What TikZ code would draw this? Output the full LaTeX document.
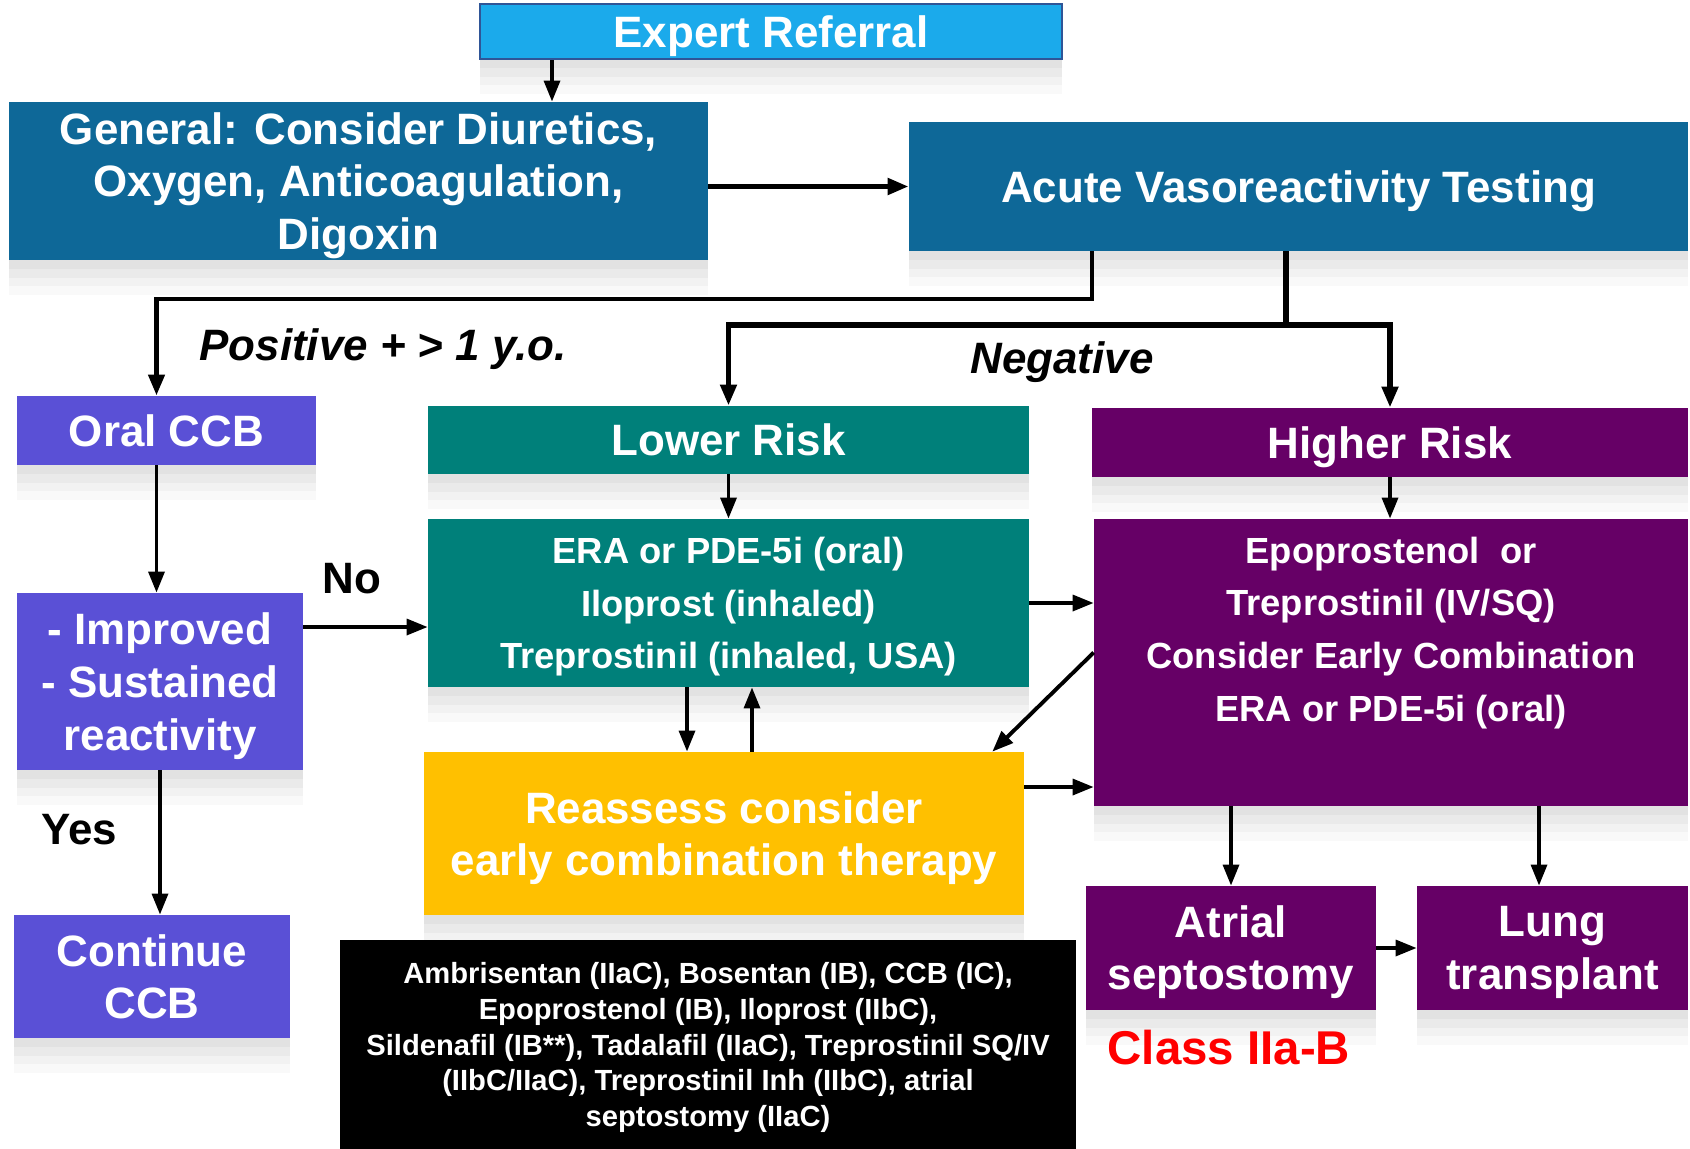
\documentclass[tikz,border=0pt]{standalone}
\usepackage{fontspec}
\setmainfont{Liberation Sans}
\usetikzlibrary{arrows.meta,positioning,shadows}

\definecolor{refblue}{RGB}{27,170,235}
\definecolor{refedge}{RGB}{47,85,151}
\definecolor{genblue}{RGB}{14,104,152}
\definecolor{ccbblue}{RGB}{90,80,214}
\definecolor{lowteal}{RGB}{0,128,122}
\definecolor{highpurple}{RGB}{102,0,102}
\definecolor{reyellow}{RGB}{255,192,0}

\begin{document}
\begin{tikzpicture}[x=0.02cm, y=-0.02cm,
    boxtext/.style={rectangle, inner sep=0pt, align=center, text=white,
      text depth=-0.8pt, font=\bfseries\fontsize{25}{30}\selectfont},
    box/.style={boxtext,
      drop shadow={shadow xshift=0pt, shadow yshift=-5pt, opacity=0.07},
      drop shadow={shadow xshift=0pt, shadow yshift=-10pt, opacity=0.07},
      drop shadow={shadow xshift=0pt, shadow yshift=-15pt, opacity=0.06},
      drop shadow={shadow xshift=0pt, shadow yshift=-20pt, opacity=0.05}},
    small/.style={text depth=-1.7pt, font=\bfseries\fontsize{20.7}{30}\selectfont},
    lbl/.style={inner sep=0pt, font=\bfseries\fontsize{25}{30}\selectfont},
    arr/.style={line width=2.2pt, -{Triangle[length=12pt,width=9pt]}},
    bar/.style={line width=3.2pt}]
\useasboundingbox (0,0) rectangle (1690,1149);

% Top row
\node[box, fill=refblue, draw=refedge, line width=1.5pt, minimum width=11.64cm, minimum height=1.1cm] (expert) at (771,31.5) {Expert Referral};
\node[box, fill=genblue, minimum width=13.98cm, minimum height=3.16cm] (general) at (358.5,181) {General: Consider Diuretics,\\Oxygen, Anticoagulation,\\Digoxin};
\node[box, fill=genblue, minimum width=15.58cm, minimum height=2.58cm] (acute) at (1298.5,186.5) {Acute Vasoreactivity Testing};

% Risk groups
\node[box, fill=ccbblue, minimum width=5.98cm, minimum height=1.38cm] (oral) at (166.5,430.5) {Oral CCB};
\node[box, fill=lowteal, minimum width=12.02cm, minimum height=1.36cm] (lower) at (728.5,440) {Lower Risk};
\node[box, fill=highpurple, minimum width=11.92cm, minimum height=1.38cm] (higher) at (1390,442.5) {Higher Risk};

% Therapies
\node[box, small, fill=lowteal, minimum width=12.02cm, minimum height=3.36cm] (era) at (728.5,603) {ERA or PDE-5i (oral)\\Iloprost (inhaled)\\Treprostinil (inhaled, USA)};
\node[box, fill=highpurple, minimum width=11.88cm, minimum height=5.74cm] (epo) at (1391,662.5) {};
\node[boxtext, small] (epotext) at (1391,629) {Epoprostenol~ or\\Treprostinil (IV/SQ)\\Consider Early Combination\\ERA or PDE-5i (oral)};
\node[box, fill=ccbblue, minimum width=5.72cm, minimum height=3.54cm] (improved) at (160,681.5) {- Improved\\- Sustained\\reactivity};
\node[box, fill=reyellow, minimum width=12cm, minimum height=3.26cm] (reassess) at (724,833.5) {Reassess consider\\early combination therapy};

% Bottom row
\node[box, fill=ccbblue, text depth=-3.6pt, minimum width=5.52cm, minimum height=2.46cm] (cont) at (152,976.5) {Continue\\CCB};
\node[box, fill=black, text depth=-2.5pt, font=\bfseries\fontsize{16.6}{20.3}\selectfont, minimum width=14.72cm, minimum height=4.18cm] (classes) at (708,1044.5) {Ambrisentan (IIaC), Bosentan (IB), CCB (IC),\\Epoprostenol (IB), Iloprost (IIbC),\\Sildenafil (IB**), Tadalafil (IIaC), Treprostinil SQ/IV\\(IIbC/IIaC), Treprostinil Inh (IIbC), atrial\\septostomy (IIaC)};
\node[box, fill=highpurple, text depth=0.5pt, minimum width=5.8cm, minimum height=2.48cm] (atrial) at (1231,948) {Atrial\\septostomy};
\node[box, fill=highpurple, text depth=0.5pt, minimum width=5.42cm, minimum height=2.48cm] (lung) at (1552.5,948) {Lung\\transplant};
\node[lbl, text=red, font=\bfseries\fontsize{27}{32}\selectfont] (classlbl) at (1229,1048) {Class IIa-B};

% Branch labels
\node[lbl, text depth=-0.8pt, font=\bfseries\itshape\fontsize{25}{30}\selectfont] (poslbl) at (383,345) {Positive + > 1 y.o.};
\node[lbl, text depth=-0.8pt, font=\bfseries\itshape\fontsize{25}{30}\selectfont] (neglbl) at (1062,358) {Negative};
\node[lbl] (nolbl) at (352,579) {No};
\node[lbl] (yeslbl) at (79,830) {Yes};

% Bend points
\coordinate (kexp) at (552,0);
\coordinate (kpos) at (1092,299);
\coordinate (kneg) at (1286,325);

% Connectors
\draw[arr] (expert.south -| kexp) -- (general.north -| kexp);
\draw[arr, line width=3.2pt] (acute.west -| general.east) -- (acute.west);
\draw[arr, line width=2.8pt] (acute.south -| kpos) -- (kpos) -| ([xshift=-0.2cm]oral.north);
\draw[bar] (acute.south -| kneg) -- (kneg);
\draw[arr, line width=3.2pt] (kneg) -| (lower.north);
\draw[arr, line width=3.2pt] (kneg) -| (higher.north);
\draw[arr] ([xshift=-0.2cm]oral.south) -- ([xshift=-0.2cm]oral.south |- improved.north);
\draw[arr] ([yshift=1.09cm]improved.east) -- ([yshift=1.09cm]improved.east -| era.west);
\draw[arr] (improved.south) -- (improved.south |- cont.north);
\draw[arr] (lower.south) -- (era.north);
\draw[arr] (higher.south) -- (higher.south |- epo.north);
\draw[arr] (era.east) -- (era.east -| epo.west);
\draw[arr] ([xshift=-0.83cm]era.south) -- ([xshift=-0.83cm]era.south |- reassess.north);
\draw[arr] ([xshift=0.47cm]era.south |- reassess.north) -- ([xshift=0.47cm]era.south);
\draw[arr] ([yshift=0.2cm]epo.west) -- ([xshift=-0.64cm]reassess.north east);
\draw[arr] ([yshift=0.93cm]reassess.east) -- ([yshift=0.93cm]reassess.east -| epo.west);
\draw[arr] (atrial.north |- epo.south) -- (atrial.north);
\draw[arr] ([xshift=-0.27cm]lung.north |- epo.south) -- ([xshift=-0.27cm]lung.north);
\draw[arr] (atrial.east) -- (lung.west);
\end{tikzpicture}
\end{document}
